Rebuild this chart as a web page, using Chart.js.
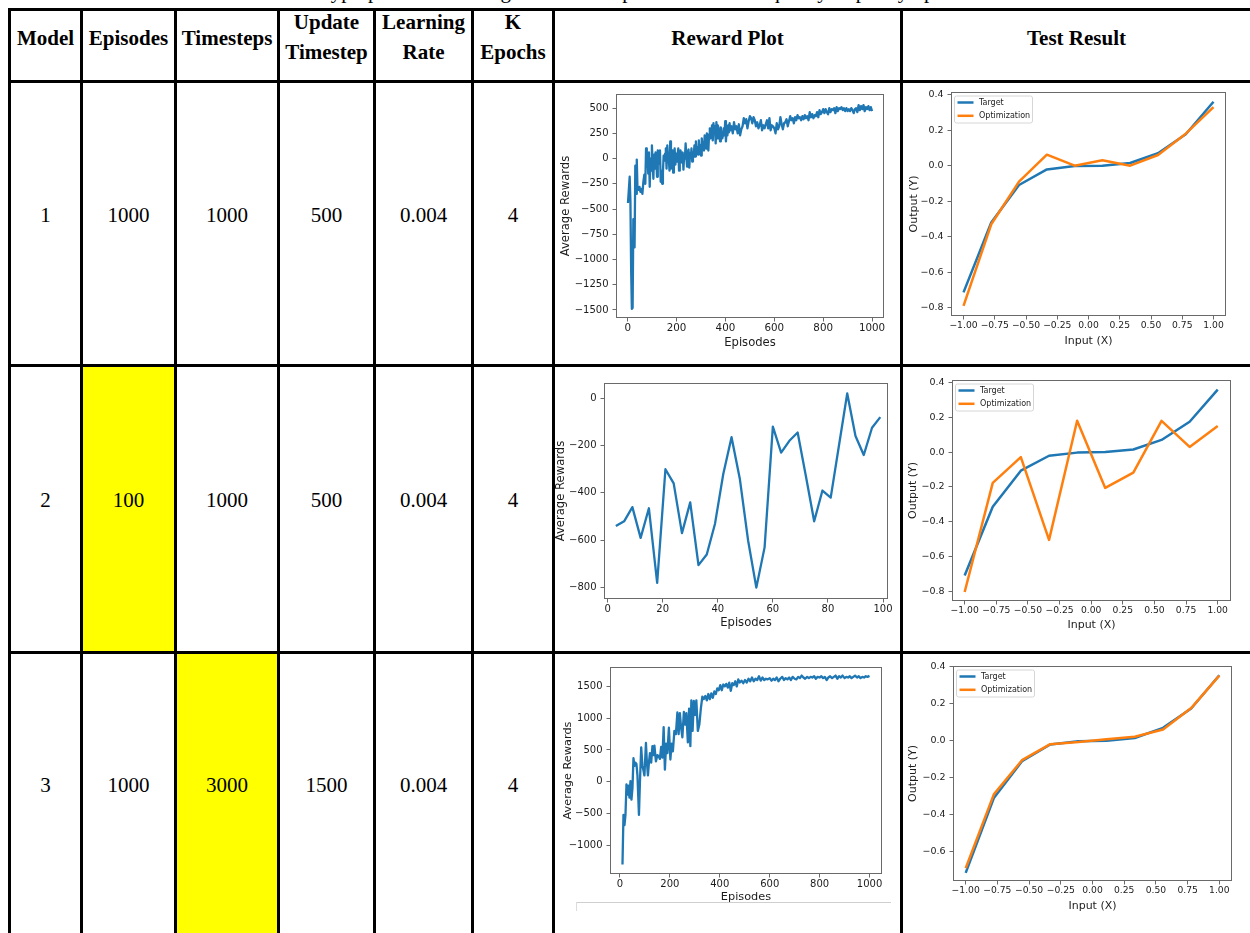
<!DOCTYPE html>
<html><head><meta charset="utf-8">
<script src="https://cdn.jsdelivr.net/npm/chart.js@4.4.1/dist/chart.umd.min.js"></script>
<style>
html,body{margin:0;padding:0;background:#fff;width:1250px;height:933px;overflow:hidden;position:relative;}
.hl{position:absolute;background:#000;height:3px;}
.vl{position:absolute;background:#000;width:3px;}
.t{position:absolute;font-family:"Liberation Serif","Times New Roman",serif;font-size:21px;line-height:30px;text-align:center;color:#000;white-space:nowrap;}
.h{font-weight:bold;}
.yl{position:absolute;background:#ffff00;}
.cap{position:absolute;left:0;top:0;width:1262px;height:6px;overflow:hidden;}
canvas{position:absolute;}
</style></head><body>
<script>
// ---------------- DATA ----------------
const caption = 'Table 2: Hyperparameter tuning with reward plots and the test quality of policy optimization';
const headers = ['Model', 'Episodes', 'Timesteps', 'Update\nTimestep', 'Learning\nRate', 'K\nEpochs', 'Reward Plot', 'Test Result'];
const models = ['1', '2', '3'];
const episodes = ['1000', '100', '1000'];
const timesteps = ['1000', '1000', '3000'];
const updateTimestep = ['500', '500', '1500'];
const learningRate = ['0.004', '0.004', '0.004'];
const kEpochs = ['4', '4', '4'];

// Reward plot 1: [episode, average reward]
const reward1 = [[1,-440],[4,-330],[8,-180],[11,-420],[14,-1100],[17,-1490],[20,-1480],[23,-600],[26,-820],[28,-880],[31,-70],[34,-350],[37,-10],[40,-300],[44,-310],[48,-280],[52,-330],[56,-300],[60,-350],[64,-230],[68,-160],[72,-250],[75,100],[78,-80],[81,30],[84,-150],[87,60],[90,-280],[93,0],[96,-120],[99,130],[102,-60],[105,-200],[108,40],[111,-100],[114,60],[117,0],[120,-180],[123,80],[126,-50],[129,0],[132,80],[135,-230],[138,-120],[141,-250],[144,-140],[147,30],[150,-20],[153,50],[156,100],[159,-100],[162,130],[165,-20],[168,10],[171,-120],[174,170],[177,-100],[180,20],[183,80],[186,-140],[189,0],[192,100],[195,-60],[198,50],[201,-30],[204,40],[207,100],[210,-120],[213,-20],[216,80],[219,20],[222,-40],[225,60],[228,-110],[231,30],[234,0],[237,150],[240,10],[243,-80],[246,60],[249,90],[252,-90],[255,50],[258,10],[261,100],[264,-30],[267,60],[270,20],[273,130],[276,20],[279,170],[282,80],[285,110],[288,40],[291,180],[294,90],[297,130],[300,30],[303,200],[306,120],[309,160],[312,80],[315,230],[318,150],[321,100],[324,250],[327,160],[330,80],[333,240],[336,300],[339,200],[342,250],[345,330],[348,180],[351,350],[354,250],[357,320],[360,150],[363,360],[366,200],[369,330],[372,290],[375,250],[378,170],[381,310],[384,260],[387,200],[390,230],[393,300],[396,230],[399,370],[402,170],[405,300],[408,230],[411,330],[414,260],[417,350],[420,280],[425,320],[430,250],[435,360],[440,290],[445,320],[450,250],[455,340],[460,230],[465,290],[470,320],[475,400],[480,350],[485,390],[490,300],[495,370],[500,420],[505,400],[510,350],[515,410],[520,380],[525,320],[530,360],[535,300],[540,330],[545,380],[550,280],[555,330],[560,300],[565,340],[570,380],[575,300],[580,400],[585,280],[590,330],[595,320],[600,300],[605,250],[610,350],[615,290],[620,320],[625,410],[630,340],[635,290],[640,350],[645,360],[650,390],[655,320],[660,370],[665,420],[670,380],[675,400],[680,350],[685,410],[690,380],[695,430],[700,400],[705,410],[710,380],[715,420],[720,390],[725,430],[730,400],[735,420],[740,380],[745,460],[750,410],[755,440],[760,400],[765,430],[770,420],[775,460],[780,410],[785,480],[790,440],[795,460],[800,490],[805,450],[810,490],[815,460],[820,440],[825,500],[830,460],[835,490],[840,480],[845,500],[850,450],[855,510],[860,470],[865,500],[870,490],[875,510],[880,480],[885,500],[890,470],[895,500],[900,470],[905,490],[910,470],[915,500],[920,480],[925,450],[930,490],[935,500],[940,460],[945,530],[950,480],[955,520],[960,490],[965,530],[970,470],[975,510],[980,490],[985,520],[990,480],[995,510],[1000,470]];
const reward1YTicks = [-1500, -1250, -1000, -750, -500, -250, 0, 250, 500];
const reward1XTicks = [0, 200, 400, 600, 800, 1000];

// Reward plot 2
const reward2 = [[3,-540],[6,-520],[9,-460],[12,-590],[15,-465],[18,-780],[21,-300],[24,-360],[27,-570],[30,-440],[33,-705],[36,-660],[39,-530],[42,-320],[45,-165],[48,-340],[51,-600],[54,-800],[57,-630],[60,-120],[63,-230],[66,-180],[69,-145],[72,-330],[75,-520],[78,-390],[81,-420],[84,-200],[87,20],[90,-160],[93,-240],[96,-125],[99,-80]];
const reward2YTicks = [-800, -600, -400, -200, 0];
const reward2XTicks = [0, 20, 40, 60, 80, 100];

// Reward plot 3
const reward3 = [[10,-1300],[14,-520],[18,-680],[22,-520],[26,-40],[30,-200],[34,-60],[38,-250],[42,10],[46,-280],[50,-100],[54,370],[58,250],[62,300],[66,280],[70,100],[76,-520],[80,0],[85,540],[90,250],[94,180],[98,100],[104,610],[108,300],[112,100],[116,300],[120,450],[125,300],[130,560],[134,420],[138,570],[144,320],[150,420],[155,400],[160,360],[165,550],[170,380],[175,860],[180,190],[185,600],[190,450],[196,850],[202,350],[207,600],[212,480],[218,800],[224,750],[230,1090],[235,750],[240,1080],[245,850],[250,700],[256,1100],[261,900],[266,1080],[272,620],[277,1150],[282,560],[286,1280],[291,800],[296,1270],[301,1050],[306,1280],[312,800],[318,900],[324,1150],[330,1340],[336,1300],[342,1350],[348,1280],[354,1380],[360,1300],[366,1390],[372,1320],[378,1420],[384,1380],[390,1470],[396,1440],[402,1520],[408,1440],[414,1530],[420,1500],[426,1540],[432,1480],[438,1560],[444,1430],[450,1550],[456,1520],[462,1580],[468,1500],[474,1610],[480,1560],[487,1590],[494,1550],[501,1600],[508,1560],[515,1620],[522,1580],[529,1640],[536,1580],[543,1620],[550,1600],[557,1660],[564,1590],[571,1640],[578,1600],[585,1620],[592,1610],[600,1630],[607,1590],[614,1620],[621,1600],[628,1640],[635,1580],[642,1620],[650,1650],[657,1600],[664,1630],[671,1610],[678,1640],[685,1600],[692,1650],[700,1620],[707,1610],[714,1650],[721,1630],[728,1670],[735,1640],[742,1620],[750,1650],[757,1630],[764,1650],[771,1640],[778,1660],[785,1620],[792,1650],[800,1640],[807,1660],[814,1630],[821,1650],[828,1600],[835,1640],[842,1660],[850,1630],[857,1650],[864,1670],[871,1620],[878,1660],[885,1640],[892,1670],[900,1630],[907,1650],[914,1640],[921,1660],[928,1630],[935,1650],[942,1670],[950,1640],[957,1660],[964,1630],[971,1650],[978,1640],[985,1660],[992,1650],[1000,1665]];
const reward3YTicks = [-1000, -500, 0, 500, 1000, 1500];
const reward3XTicks = [0, 200, 400, 600, 800, 1000];

// Test results
const testX = [-1, -0.778, -0.556, -0.333, -0.111, 0.111, 0.333, 0.556, 0.778, 1];
const target1 = [-0.714, -0.32, -0.109, -0.021, -0.002, 0.0, 0.015, 0.07, 0.177, 0.36];
const optim1 = [-0.79, -0.33, -0.09, 0.062, 0.0, 0.03, 0.0, 0.06, 0.18, 0.33];
const target2 = [-0.71, -0.315, -0.107, -0.021, -0.003, 0.0, 0.015, 0.07, 0.175, 0.36];
const optim2 = [-0.805, -0.177, -0.029, -0.505, 0.18, -0.206, -0.118, 0.18, 0.03, 0.15];
const target3 = [-0.715, -0.31, -0.11, -0.02, -0.003, 0.0, 0.015, 0.07, 0.175, 0.355];
const optim3 = [-0.69, -0.29, -0.105, -0.018, -0.007, 0.009, 0.022, 0.061, 0.177, 0.353];
const testXTicks = [-1, -0.75, -0.5, -0.25, 0, 0.25, 0.5, 0.75, 1];
const testXTickLabels = ['\u22121.00', '\u22120.75', '\u22120.50', '\u22120.25', '0.00', '0.25', '0.50', '0.75', '1.00'];
const testYTicksA = [-0.8, -0.6, -0.4, -0.2, 0, 0.2, 0.4];
const testYTickLabelsA = ['\u22120.8', '\u22120.6', '\u22120.4', '\u22120.2', '0.0', '0.2', '0.4'];
const testYTicksB = [-0.6, -0.4, -0.2, 0, 0.2, 0.4];
const testYTickLabelsB = ['\u22120.6', '\u22120.4', '\u22120.2', '0.0', '0.2', '0.4'];

// ---------------- TABLE ----------------
const vLines = [8, 80, 174, 277, 373, 471, 552, 900];
const hLines = [8, 80, 364, 651];
const colSpans = [[11,80],[83,174],[177,277],[280,373],[376,471],[474,552],[555,900],[903,1250]];
const rowCaps = [215, 500, 785];

function addDiv(cls, style, text, parent) {
  const d = document.createElement('div');
  d.className = cls;
  Object.assign(d.style, style);
  if (text !== undefined) d.innerHTML = text;
  (parent || document.body).appendChild(d);
  return d;
}
addDiv('yl', {left: '83px', top: '367px', width: '91px', height: '284px'});
addDiv('yl', {left: '177px', top: '654px', width: '100px', height: '279px'});
// caption: only the descenders are visible above the table
const capBox = addDiv('cap', {});
addDiv('t', {left: '0px', width: '1262px', top: '-21px', lineHeight: '24px'}, caption, capBox);
vLines.forEach(x => addDiv('vl', {left: x + 'px', top: '8px', height: '925px'}));
hLines.forEach(y => addDiv('hl', {left: '8px', top: y + 'px', width: '1250px'}));
headers.forEach((h, i) => {
  const [a, b] = colSpans[i];
  const two = h.indexOf('\n') >= 0;
  addDiv('t h', {left: a + 'px', width: (b - a) + 'px', top: (two ? 7 : 23) + 'px'}, h.replace('\n', '<br>'));
});
const cols = [models, episodes, timesteps, updateTimestep, learningRate, kEpochs];
for (let r = 0; r < 3; r++) {
  cols.forEach((c, i) => {
    const [a, b] = colSpans[i];
    addDiv('t', {left: a + 'px', width: (b - a) + 'px', top: (rowCaps[r] - 15) + 'px'}, c[r]);
  });
}
addDiv('x', {position: 'absolute', left: '576px', top: '902px', width: '315px', height: '1px', background: '#cfcfcf'});
addDiv('x', {position: 'absolute', left: '576px', top: '902px', width: '1px', height: '9px', background: '#dcdcdc'});

// ---------------- CHARTS ----------------
const BLUE = '#1f77b4', ORANGE = '#ff7f0e';
const TXT = '#1c1c1c', SPINE = '#6a6a6a';
const FAM = "'DejaVu Sans', sans-serif";

const framePlugin = {
  id: 'frame',
  afterDraw(chart) {
    const {ctx, chartArea: a} = chart;
    ctx.save();
    ctx.strokeStyle = SPINE; ctx.lineWidth = 1;
    ctx.strokeRect(Math.round(a.left) + 0.5, Math.round(a.top) + 0.5, Math.round(a.right - a.left) - 1, Math.round(a.bottom - a.top) - 1);
    ctx.restore();
  }
};
const legendPlugin = {
  id: 'mplLegend',
  afterDatasetsDraw(chart, args, opts) {
    if (!opts || !opts.show) return;
    const {ctx, chartArea: a} = chart;
    const x0 = a.left + 3.5, y0 = a.top + 4, w = 78, h = 27, r = 2;
    ctx.save();
    ctx.beginPath();
    ctx.moveTo(x0 + r, y0); ctx.lineTo(x0 + w - r, y0); ctx.quadraticCurveTo(x0 + w, y0, x0 + w, y0 + r);
    ctx.lineTo(x0 + w, y0 + h - r); ctx.quadraticCurveTo(x0 + w, y0 + h, x0 + w - r, y0 + h);
    ctx.lineTo(x0 + r, y0 + h); ctx.quadraticCurveTo(x0, y0 + h, x0, y0 + h - r);
    ctx.lineTo(x0, y0 + r); ctx.quadraticCurveTo(x0, y0, x0 + r, y0);
    ctx.closePath();
    ctx.fillStyle = 'rgba(255,255,255,0.85)'; ctx.fill();
    ctx.strokeStyle = '#d6d6d6'; ctx.lineWidth = 1; ctx.stroke();
    chart.data.datasets.forEach((ds, i) => {
      const yy = y0 + 6.5 + i * 13.3;
      ctx.beginPath(); ctx.strokeStyle = ds.borderColor; ctx.lineWidth = 2.5;
      ctx.moveTo(x0 + 3, yy); ctx.lineTo(x0 + 19, yy); ctx.stroke();
      ctx.fillStyle = TXT; ctx.font = "8px 'DejaVu Sans', sans-serif"; ctx.textBaseline = 'middle'; ctx.textAlign = 'left';
      ctx.fillText(ds.label, x0 + 24.5, yy);
    });
    ctx.restore();
  }
};

function axis(opts) {
  return {
    type: 'linear', position: opts.position, min: opts.min, max: opts.max,
    afterBuildTicks: s => { s.ticks = opts.ticks.map(v => ({value: v})); },
    afterFit: s => {
      if (opts.position === 'left') s.width = opts.size; else s.height = opts.size;
      s.paddingLeft = 0; s.paddingRight = 0; s.paddingTop = 0; s.paddingBottom = 0;
    },
    ticks: {
      autoSkip: false, maxRotation: 0, minRotation: 0,
      padding: opts.position === 'left' ? 4 : 2,
      color: TXT, font: {family: FAM, size: opts.tickSize, lineHeight: 1},
      callback: (v, i) => opts.labels[i]
    },
    grid: {display: true, drawOnChartArea: false, drawTicks: true, tickLength: 3.5, color: SPINE, tickColor: SPINE, lineWidth: 1},
    border: {display: false},
    title: {display: true, text: opts.title, color: TXT, font: {family: FAM, size: opts.titleSize, lineHeight: 1.2}, padding: 0}
  };
}

function buildChart(p, datasets, xs, ys, legend) {
  const padT = 10, padR = 22;
  const half = ys.titleSize * 0.6;
  const halfX = xs.titleSize * 0.6;
  const CL = Math.round(p.ytc - half);
  const CT = Math.round(p.t) - padT;
  const W = Math.round(p.r) - CL + padR;
  const H = Math.round(p.xtc + halfX) - CT;
  const yw = Math.round(p.l) - CL;
  const xh = H - (Math.round(p.b) - CT);
  const cv = document.createElement('canvas');
  cv.width = W; cv.height = H;
  Object.assign(cv.style, {left: CL + 'px', top: CT + 'px', width: W + 'px', height: H + 'px'});
  document.body.appendChild(cv);
  new Chart(cv, {
    type: 'line',
    data: {datasets},
    options: {
      responsive: false, animation: false, devicePixelRatio: 1,
      layout: {padding: {top: padT, right: padR, left: 0, bottom: 0}},
      plugins: {legend: {display: false}, tooltip: {enabled: false}, mplLegend: {show: legend}},
      elements: {point: {radius: 0}, line: {tension: 0, borderWidth: 2.4, borderCapStyle: 'butt', borderJoinStyle: 'round'}},
      scales: {
        x: axis(Object.assign({position: 'bottom', size: xh}, xs)),
        y: axis(Object.assign({position: 'left', size: yw}, ys))
      }
    },
    plugins: [framePlugin, legendPlugin]
  });
}
const fmt = v => String(v).replace('-', '\u2212');
const pts = arr => arr.map(([x, y]) => ({x, y}));
const zipPts = (xs, ys) => xs.map((x, i) => ({x, y: ys[i]}));
const rewardDs = arr => [{label: 'Reward', data: pts(arr), borderColor: BLUE, borderWidth: 2.3, fill: false}];
const testDs = (t, o) => [
  {label: 'Target', data: zipPts(testX, t), borderColor: BLUE, borderWidth: 2.5, order: 1, fill: false},
  {label: 'Optimization', data: zipPts(testX, o), borderColor: ORANGE, borderWidth: 2.5, order: 0, fill: false}
];

buildChart({l: 616, r: 884, t: 94, b: 318, ytc: 566, xtc: 343}, rewardDs(reward1),
  {min: -48, max: 1049, ticks: reward1XTicks, labels: reward1XTicks.map(fmt), title: 'Episodes', tickSize: 10.3, titleSize: 11.6},
  {min: -1580, max: 640, ticks: reward1YTicks, labels: reward1YTicks.map(fmt), title: 'Average Rewards', tickSize: 10, titleSize: 11.6}, false);
buildChart({l: 604, r: 888, t: 383, b: 599, ytc: 561, xtc: 623}, rewardDs(reward2),
  {min: -1.3, max: 101.8, ticks: reward2XTicks, labels: reward2XTicks.map(fmt), title: 'Episodes', tickSize: 10, titleSize: 11.6},
  {min: -848, max: 64, ticks: reward2YTicks, labels: reward2YTicks.map(fmt), title: 'Average Rewards', tickSize: 10, titleSize: 11.6}, false);
buildChart({l: 610, r: 882, t: 667, b: 874, ytc: 567.6, xtc: 897}, rewardDs(reward3),
  {min: -40, max: 1050, ticks: reward3XTicks, labels: reward3XTicks.map(fmt), title: 'Episodes', tickSize: 10, titleSize: 11.3},
  {min: -1450, max: 1805, ticks: reward3YTicks, labels: reward3YTicks.map(fmt), title: 'Average Rewards', tickSize: 10, titleSize: 11.3}, false);
buildChart({l: 951, r: 1226, t: 92, b: 316, ytc: 915, xtc: 341}, testDs(target1, optim1),
  {min: -1.1, max: 1.1, ticks: testXTicks, labels: testXTickLabels, title: 'Input (X)', tickSize: 9.2, titleSize: 11},
  {min: -0.847, max: 0.415, ticks: testYTicksA, labels: testYTickLabelsA, title: 'Output (Y)', tickSize: 9.5, titleSize: 11}, true);
buildChart({l: 952, r: 1231, t: 380, b: 601, ytc: 914, xtc: 625.7}, testDs(target2, optim2),
  {min: -1.1, max: 1.105, ticks: testXTicks, labels: testXTickLabels, title: 'Input (X)', tickSize: 9.2, titleSize: 11},
  {min: -0.857, max: 0.415, ticks: testYTicksA, labels: testYTickLabelsA, title: 'Output (Y)', tickSize: 9.5, titleSize: 11}, true);
buildChart({l: 953, r: 1232, t: 666, b: 881, ytc: 914, xtc: 906}, testDs(target3, optim3),
  {min: -1.1, max: 1.1, ticks: testXTicks, labels: testXTickLabels, title: 'Input (X)', tickSize: 9.2, titleSize: 11},
  {min: -0.759, max: 0.405, ticks: testYTicksB, labels: testYTickLabelsB, title: 'Output (Y)', tickSize: 9.5, titleSize: 11}, true);
</script>
</body></html>
